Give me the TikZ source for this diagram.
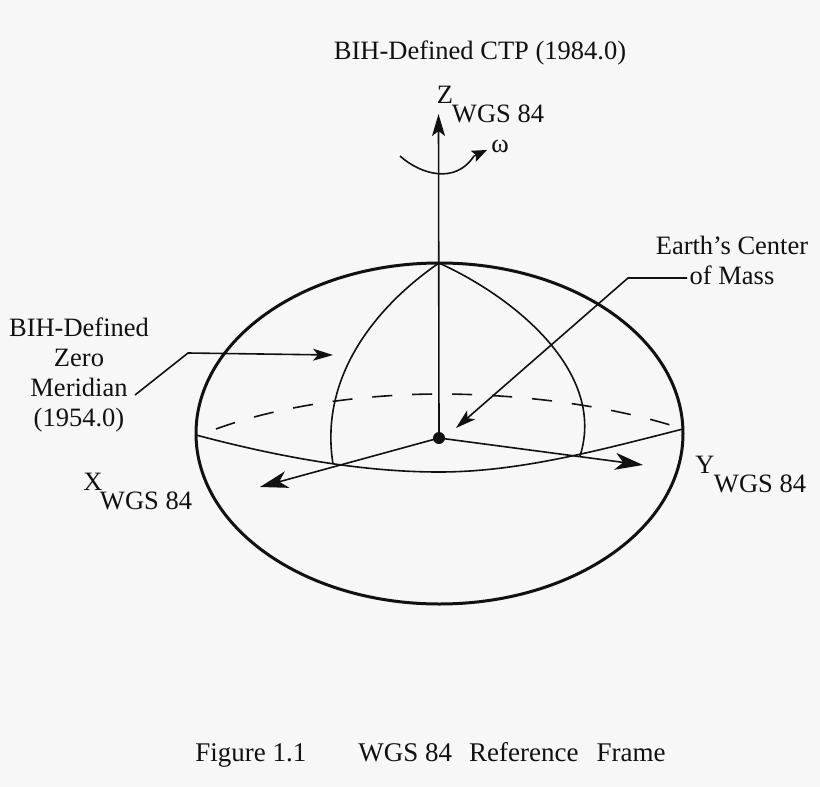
\documentclass[tikz,border=0pt]{standalone}
\usepackage{fontspec}
\setmainfont{Liberation Serif}
\usetikzlibrary{arrows.meta}
\definecolor{ink}{HTML}{111111}
\definecolor{paper}{HTML}{F7F7F7}
\tikzset{
  thin line/.style={draw=ink,line width=1.6pt},
  tip/.style={-{Stealth[length=28pt,width=17pt,inset=8pt]}},
  ztip/.style={-{Stealth[length=22pt,width=13pt,inset=5pt]}},
  smalltip/.style={-{Stealth[length=20pt,width=12pt,inset=5pt]}},
  wtip/.style={-{Stealth[length=15pt,width=12pt,inset=3pt]}},
  lbl/.style={font=\fontsize{26.5}{30}\selectfont,text=ink,inner sep=0pt,align=center},
  dot/.style={circle,fill=ink,inner sep=0pt,minimum size=12pt}
}
\begin{document}
\begin{tikzpicture}[x=1pt,y=-1pt]
\useasboundingbox[fill=paper] (0,0) rectangle (820,787);
% coordinates
\coordinate (C) at (439,438);
\coordinate (N) at (439,263);
\coordinate (L) at (196,435);
\coordinate (R) at (683,429);
\coordinate (XM) at (333,464);
\coordinate (YM) at (580,456);
\coordinate (XE) at (260,487);
\coordinate (YE) at (643,465);
\coordinate (ZE) at (438.5,114);
\coordinate (DS) at (216,429);
\node[dot] (center) at (C) {};
% globe
\draw[draw=ink,line width=3pt] (439.5,433.5) ellipse [x radius=243.5,y radius=170.5];
% equator
\draw[thin line] (L) .. controls (290,460) and (370,472) .. (439,472) .. controls (520,472) and (600,450) .. (R);
\draw[thin line,dash pattern=on 20pt off 20pt] (DS) .. controls (290,402) and (380,394) .. (439,394) .. controls (520,394) and (610,405) .. (R);
% meridians
\draw[thin line] (N) .. controls (385,300) and (318,370) .. (XM);
\draw[thin line] (N) .. controls (520,300) and (606,375) .. (YM);
% axes
\draw[thin line,ztip] (center.center) -- (ZE);
\draw[thin line,tip] (center.center) -- (XE);
\draw[thin line,tip] (center.center) -- (YE);
% rotation
\coordinate (w1) at (400,156);
\coordinate (w2) at (474,156);
\coordinate (w3) at (487,150);
\draw[thin line] (w1) .. controls (420,174) and (455,185) .. (w2);
\draw[thin line,wtip] (w2) -- (w3);
% labels
\node[lbl] (ctp) at (480,53) {BIH-Defined CTP (1984.0)};
\node[lbl] (zl) at (445,95) {Z};
\node[lbl] (zs) at (498,114) {WGS 84};
\node[lbl] (om) at (500,146) {ω};
\node[lbl] (mass) at (732,260) {Earth's Center\\of Mass};
\node[lbl] (zero) at (79,375) {BIH-Defined\\Zero\\Meridian\\(1954.0)};
\node[lbl] (xl) at (93,482) {X};
\node[lbl] (xs) at (146,501) {WGS 84};
\node[lbl] (yl) at (705,465) {Y};
\node[lbl] (ys) at (760,484) {WGS 84};
\node[lbl,font=\fontsize{27}{30}\selectfont] (cap) at (430.5,755) {Figure 1.1\hspace{52pt}WGS 84\hspace{17pt}Reference\hspace{18pt}Frame};
% leaders
\coordinate (m1) at (687,278);
\coordinate (m2) at (628,278);
\coordinate (m3) at (456,428);
\draw[thin line,smalltip] (m1) -- (m2) -- (m3);
\coordinate (z1) at (135,395);
\coordinate (z2) at (188,353);
\coordinate (z3) at (333,355);
\draw[thin line,smalltip] (z1) -- (z2) -- (z3);
\end{tikzpicture}
\end{document}
